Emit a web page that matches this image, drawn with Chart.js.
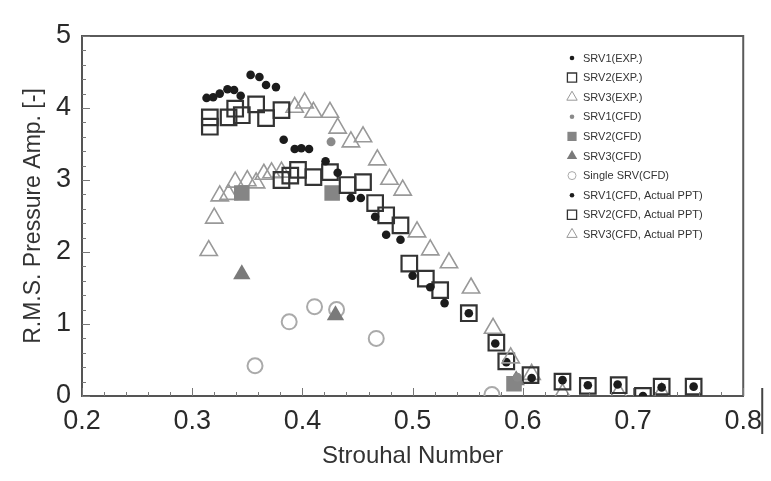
<!DOCTYPE html>
<html>
<head>
<meta charset="utf-8">
<script src="https://cdn.jsdelivr.net/npm/chart.js@4.4.0/dist/chart.umd.min.js"></script>
<style>
  html, body { margin: 0; padding: 0; background: #fff; }
  #wrap { width: 771px; height: 481px; }
</style>
</head>
<body>
<div id="wrap"><canvas id="myChart" width="771" height="481"></canvas></div>
<script>
// Strouhal number / RMS pressure amplitude
const srv1ExpSt  = [0.313, 0.319, 0.325, 0.332, 0.338, 0.344, 0.353, 0.361, 0.367, 0.376,
                    0.383, 0.393, 0.399, 0.406, 0.421, 0.432, 0.444, 0.453, 0.466, 0.476, 0.489, 0.500, 0.516, 0.529];
const srv1ExpAmp = [4.14, 4.15, 4.20, 4.26, 4.25, 4.17, 4.46, 4.43, 4.32, 4.29,
                    3.56, 3.43, 3.44, 3.43, 3.26, 3.10, 2.75, 2.75, 2.49, 2.24, 2.17, 1.67, 1.51, 1.29];

const srv2ExpSt  = [0.316, 0.316, 0.333, 0.339, 0.345, 0.358, 0.367, 0.381,
                    0.381, 0.389, 0.396, 0.410, 0.425, 0.441, 0.455, 0.466, 0.476, 0.489, 0.497, 0.512, 0.525];
const srv2ExpAmp = [3.87, 3.74, 3.87, 3.99, 3.90, 4.05, 3.86, 3.97,
                    3.00, 3.06, 3.14, 3.04, 3.11, 2.93, 2.97, 2.68, 2.51, 2.37, 1.84, 1.63, 1.47];

const srv3ExpSt  = [0.393, 0.402, 0.410, 0.425, 0.432, 0.444, 0.455, 0.468, 0.479, 0.491,
                    0.504, 0.516, 0.533, 0.553, 0.573, 0.589];
const srv3ExpAmp = [4.01, 4.07, 3.94, 3.94, 3.72, 3.53, 3.60, 3.28, 3.01, 2.86,
                    2.28, 2.03, 1.85, 1.50, 0.94, 0.53];

const srv1CfdSt  = [0.426, 0.595];
const srv1CfdAmp = [3.53, 0.26];

const srv2CfdSt  = [0.345, 0.427, 0.592];
const srv2CfdAmp = [2.82, 2.82, 0.17];

const srv3CfdSt  = [0.345, 0.430, 0.594];
const srv3CfdAmp = [1.69, 1.12, 0.22];

const singleSt  = [0.357, 0.388, 0.411, 0.431, 0.467, 0.572];
const singleAmp = [0.42, 1.03, 1.24, 1.20, 0.80, 0.02];

const srv1PptSt  = [0.551, 0.575, 0.585, 0.608, 0.636, 0.659, 0.686, 0.709, 0.726, 0.755];
const srv1PptAmp = [1.15, 0.73, 0.47, 0.25, 0.22, 0.15, 0.16, 0.00, 0.12, 0.13];

const srv2PptSt  = [0.551, 0.576, 0.585, 0.607, 0.636, 0.659, 0.687, 0.709, 0.726, 0.755];
const srv2PptAmp = [1.15, 0.74, 0.48, 0.29, 0.20, 0.14, 0.15, 0.00, 0.13, 0.13];

const srv3PptSt  = [0.315, 0.320, 0.325, 0.333, 0.339, 0.350, 0.358, 0.365, 0.372, 0.381,
                    0.608, 0.636, 0.687, 0.726];
const srv3PptAmp = [2.02, 2.47, 2.78, 2.80, 2.97, 2.99, 2.96, 3.08, 3.10, 3.11,
                    0.30, 0.03, 0.04, 0.04];

const xTicks = [0.2, 0.3, 0.4, 0.5, 0.6, 0.7, 0.8];
const yTicks = [0, 1, 2, 3, 4, 5];

function pts(xs, ys) {
    return xs.map((x, i) => ({ x: x, y: ys[i] }));
}

// dataset 0 is painted last (on top) by Chart.js
const datasets = [
    { label: 'SRV1(EXP.)', data: pts(srv1ExpSt, srv1ExpAmp), pointStyle: 'circle',
      pointRadius: 4.3, backgroundColor: '#1c1c1c', borderColor: '#1c1c1c', borderWidth: 0, legendRadius: 2.3 },
    { label: 'SRV2(EXP.)', data: pts(srv2ExpSt, srv2ExpAmp), pointStyle: 'rect',
      pointRadius: 11, backgroundColor: 'rgba(0,0,0,0)', borderColor: '#333', borderWidth: 2.2, legendRadius: 6.5, legendBorder: 1.3 },
    { label: 'SRV3(EXP.)', data: pts(srv3ExpSt, srv3ExpAmp), pointStyle: 'triangle',
      pointRadius: 10, backgroundColor: 'rgba(0,0,0,0)', borderColor: '#999', borderWidth: 1.6, legendRadius: 6, legendBorder: 1 },
    { label: 'SRV1(CFD)', data: pts(srv1CfdSt, srv1CfdAmp), pointStyle: 'circle',
      pointRadius: 4.5, backgroundColor: '#8a8a8a', borderColor: '#8a8a8a', borderWidth: 0, legendRadius: 2.3 },
    { label: 'SRV2(CFD)', data: pts(srv2CfdSt, srv2CfdAmp), pointStyle: 'rect',
      pointRadius: 11, backgroundColor: '#858585', borderColor: '#858585', borderWidth: 0, legendRadius: 6.5 },
    { label: 'SRV3(CFD)', data: pts(srv3CfdSt, srv3CfdAmp), pointStyle: 'triangle',
      pointRadius: 10, backgroundColor: '#7a7a7a', borderColor: '#7a7a7a', borderWidth: 0, legendRadius: 6 },
    { label: 'Single SRV(CFD)', data: pts(singleSt, singleAmp), pointStyle: 'circle',
      pointRadius: 7.5, backgroundColor: 'rgba(0,0,0,0)', borderColor: '#aaa', borderWidth: 2, legendRadius: 4, legendBorder: 1 },
    { label: 'SRV1(CFD, Actual PPT)', data: pts(srv1PptSt, srv1PptAmp), pointStyle: 'circle',
      pointRadius: 4.3, backgroundColor: '#1c1c1c', borderColor: '#1c1c1c', borderWidth: 0, legendRadius: 2.3 },
    { label: 'SRV2(CFD, Actual PPT)', data: pts(srv2PptSt, srv2PptAmp), pointStyle: 'rect',
      pointRadius: 11, backgroundColor: 'rgba(0,0,0,0)', borderColor: '#333', borderWidth: 2.2, legendRadius: 6.5, legendBorder: 1.3 },
    { label: 'SRV3(CFD, Actual PPT)', data: pts(srv3PptSt, srv3PptAmp), pointStyle: 'triangle',
      pointRadius: 10, backgroundColor: 'rgba(0,0,0,0)', borderColor: '#999', borderWidth: 1.6, legendRadius: 6, legendBorder: 1 }
];

datasets.forEach(d => { d.pointHoverRadius = d.pointRadius; d.showLine = false; });

// frame + inward ticks
const framePlugin = {
    id: 'frame',
    afterDraw(chart) {
        const ctx = chart.ctx;
        const a = chart.chartArea;
        const xs = chart.scales.x, ys = chart.scales.y;
        ctx.save();
        ctx.strokeStyle = '#5a5a5a';
        ctx.lineWidth = 2;
        ctx.beginPath();
        ctx.moveTo(a.left, a.top); ctx.lineTo(a.right, a.top); ctx.lineTo(a.right, a.bottom);
        ctx.stroke();
        // stray line at right of the x-axis
        ctx.strokeStyle = '#444';
        ctx.beginPath();
        ctx.moveTo(a.right + 19, a.bottom - 8); ctx.lineTo(a.right + 19, a.bottom + 38);
        ctx.stroke();

        ctx.strokeStyle = '#777';
        ctx.lineWidth = 1;
        ctx.beginPath();
        for (let i = 0; i <= 30; i++) {
            const v = 0.2 + i * 0.02;
            const px = Math.round(xs.getPixelForValue(v)) + 0.5;
            const len = (i % 5 === 0) ? 8 : 4;
            ctx.moveTo(px, a.bottom); ctx.lineTo(px, a.bottom - len);
        }
        for (let i = 0; i <= 25; i++) {
            const v = i * 0.2;
            const py = Math.round(ys.getPixelForValue(v)) + 0.5;
            const len = (i % 5 === 0) ? 8 : 4;
            ctx.moveTo(a.left, py); ctx.lineTo(a.left + len, py);
        }
        ctx.stroke();
        ctx.restore();
    }
};

// legend inside the plot, top right
const legendPlugin = {
    id: 'innerLegend',
    afterDraw(chart) {
        const ctx = chart.ctx;
        const mx = 572, tx = 583, y0 = 58, step = 19.6;
        ctx.save();
        ctx.font = '11px "Liberation Sans", Arial, sans-serif';
        ctx.textBaseline = 'middle';
        ctx.textAlign = 'left';
        chart.data.datasets.forEach((d, i) => {
            const y = y0 + i * step;
            ctx.fillStyle = d.backgroundColor;
            ctx.strokeStyle = d.borderColor;
            ctx.lineWidth = d.legendBorder || 0;
            Chart.helpers.drawPoint(ctx, {
                pointStyle: d.pointStyle, rotation: 0,
                radius: d.legendRadius, borderWidth: d.legendBorder || 0
            }, mx, y);
            ctx.fillStyle = '#333';
            ctx.fillText(d.label, tx, y + 0.5);
        });
        ctx.restore();
    }
};

const ctx = document.getElementById('myChart').getContext('2d');
const chart = new Chart(ctx, {
    type: 'scatter',
    data: { datasets: datasets },
    options: {
        responsive: false,
        animation: false,
        events: [],
        layout: { padding: { top: 36, right: 25, left: 0, bottom: 0 } },
        plugins: {
            legend: { display: false },
            tooltip: { enabled: false }
        },
        scales: {
            x: {
                type: 'linear',
                min: 0.2, max: 0.8,
                afterFit(scale) { scale.height = 85; },
                afterBuildTicks(scale) { scale.ticks = xTicks.map(v => ({ value: v })); },
                ticks: {
                    padding: 9,
                    color: '#2a2a2a',
                    font: { family: '"Liberation Sans", Arial, sans-serif', size: 27 },
                    callback: v => v.toFixed(1),
                    maxRotation: 0
                },
                grid: { display: false, drawTicks: false },
                border: { display: true, color: '#555', width: 2 },
                title: {
                    display: true,
                    text: 'Strouhal Number',
                    color: '#333',
                    font: { family: '"Liberation Sans", Arial, sans-serif', size: 24 },
                    padding: { top: 0, bottom: 10 }
                }
            },
            y: {
                type: 'linear',
                min: 0, max: 5,
                afterFit(scale) { scale.width = 82; },
                afterBuildTicks(scale) { scale.ticks = yTicks.map(v => ({ value: v })); },
                ticks: {
                    padding: 11,
                    color: '#2a2a2a',
                    font: { family: '"Liberation Sans", Arial, sans-serif', size: 27 }
                },
                grid: { display: false, drawTicks: false },
                border: { display: true, color: '#555', width: 2 },
                title: {
                    display: true,
                    text: 'R.M.S. Pressure Amp. [-]',
                    color: '#333',
                    font: { family: '"Liberation Sans", Arial, sans-serif', size: 23 },
                    padding: { top: 20, bottom: 0 }
                }
            }
        }
    },
    plugins: [framePlugin, legendPlugin]
});
</script>
</body>
</html>
